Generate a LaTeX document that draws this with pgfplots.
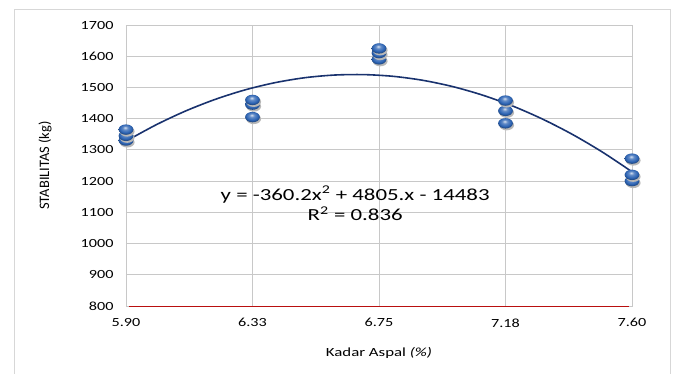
\documentclass[border=0pt]{standalone}
\usepackage{fontspec}
\setmainfont{Carlito}
\usepackage{graphicx}
\usepackage{pgfplots}
\pgfplotsset{compat=1.18}

\definecolor{gridgray}{RGB}{200,200,200}
\definecolor{framegray}{RGB}{215,215,215}
\definecolor{trendblue}{RGB}{25,50,110}
\definecolor{ballblue}{RGB}{45,100,180}
\definecolor{basered}{RGB}{185,15,15}

% widened text, as set in the chart
\newcommand{\wide}[2]{\scalebox{#1}[1]{#2}}

% glossy blue marker
\pgfdeclareradialshading{sphereshade}{\pgfpoint{-3bp}{10bp}}{%
  color(0bp)=(white!80!ballblue);
  color(9bp)=(white!25!ballblue);
  color(20bp)=(ballblue);
  color(32bp)=(ballblue!50!black);
  color(50bp)=(ballblue!35!black)}
\pgfdeclareplotmark{sphere}{%
  \pgfsetfillcolor{black!28}
  \pgfpathellipse{\pgfqpoint{1.2bp}{-1.8bp}}{\pgfqpoint{7.4bp}{0pt}}{\pgfqpoint{0pt}{5.2bp}}
  \pgfusepath{fill}
  \pgfpathellipse{\pgfpointorigin}{\pgfqpoint{7.4bp}{0pt}}{\pgfqpoint{0pt}{5.2bp}}
  \pgfshadepath{sphereshade}{0}
  \pgfusepath{}
}

\begin{document}
\begin{tikzpicture}
\useasboundingbox (-126bp,-68bp) rectangle (548bp,306bp);
% chart frame
\draw[framegray,line width=1pt] (-112bp,-80bp) -- (-112bp,296bp) -- (544bp,296bp) -- (544bp,-80bp);
\begin{axis}[
  at={(0,0)}, anchor=south west,
  scale only axis, width=506bp, height=281bp,
  xmin=5.9, xmax=7.6, ymin=800, ymax=1700,
  xtick={5.9,6.325,6.75,7.175,7.6},
  xticklabels={\wide{1.3}{5.90},\wide{1.3}{6.33},\wide{1.3}{6.75},\wide{1.3}{7.18},\wide{1.3}{7.60}},
  ytick={800,900,...,1700},
  yticklabel={\wide{1.3}{\pgfmathprintnumber{\tick}}},
  /pgf/number format/1000 sep={},
  major tick length=0pt,
  grid=major,
  major grid style={gridgray, line width=0.9pt},
  axis line style={gridgray, line width=0.9pt},
  /pgf/number format/assume math mode=true,
  ticklabel style={font=\fontsize{12.5}{14}\selectfont},
  yticklabel style={xshift=-9bp},
  xticklabel style={yshift=-9bp},
  xlabel={\wide{1.35}{Kadar Aspal \textit{(\%)}}},
  ylabel={STABILITAS (kg)},
  xlabel style={font=\fontsize{12.5}{14}\selectfont, at={(axis description cs:0.5,-0.167)}, anchor=center},
  ylabel style={font=\fontsize{14.5}{16}\selectfont, at={(axis description cs:-0.160,0.5)}, anchor=center},
  clip=false,
]
% quadratic trend line y = -360.2x^2 + 4805x - 14483
\addplot[trendblue, line width=1.6pt, smooth] coordinates {
(5.9,1327.9) (6.0,1379.8) (6.1,1424.5) (6.2,1461.9) (6.3,1492.2)
(6.4,1515.2) (6.5,1531.1) (6.6,1539.7) (6.7,1541.1) (6.8,1535.4)
(6.9,1522.4) (7.0,1502.2) (7.1,1474.8) (7.2,1440.2) (7.3,1398.4)
(7.4,1349.5) (7.5,1293.3) (7.6,1229.9)};
% measured stability
\addplot[only marks, mark=sphere] coordinates {
(5.9,1330) (5.9,1345) (5.9,1365)
(6.325,1405) (6.325,1445) (6.325,1460)
(6.75,1590) (6.75,1610) (6.75,1625)
(7.175,1385) (7.175,1425) (7.175,1458)
(7.6,1200) (7.6,1220) (7.6,1272)};
% base line
\addplot[draw=basered, line width=1.6pt, mark=none] coordinates {(5.91,798) (7.59,798)};
\node[align=center, font=\fontsize{17}{21}\selectfont] at (axis cs:6.67,1128)
  {\wide{1.35}{y = -360.2x\textsuperscript{2} + 4805.x - 14483}\\\wide{1.35}{R\textsuperscript{2} = 0.836}};
\end{axis}
\end{tikzpicture}
\end{document}
